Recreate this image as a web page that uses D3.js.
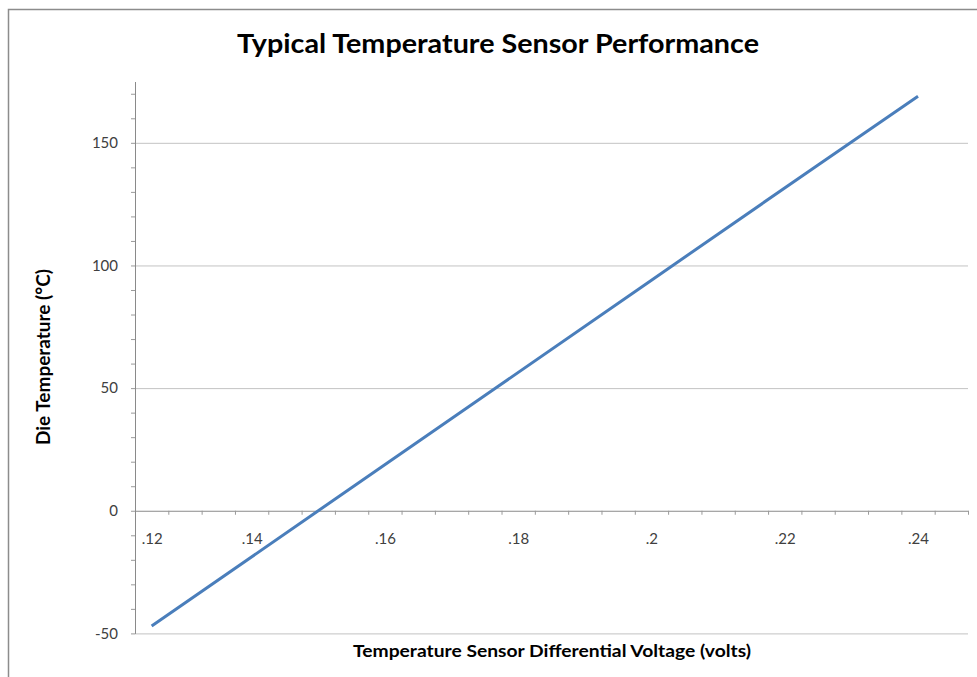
<!DOCTYPE html>
<html>
<head>
<meta charset="utf-8">
<script src="https://cdn.jsdelivr.net/npm/d3@7"></script>
<style>
  body { margin: 0; background: #fff; }
  text { font-family: Lato, "Open Sans", sans-serif; }
</style>
</head>
<body>
<svg></svg>
<script>
var width = 977
var height = 677

// values
var voltage = [0.125, 0.15, 0.175, 0.2, 0.225, 0.24]
var temperature = [-47, 0, 47, 94, 141, 169]

var xTickValues = [0.125, 0.14, 0.16, 0.18, 0.2, 0.22, 0.24]
var xTickLabels = [".12", ".14", ".16", ".18", ".2", ".22", ".24"]
var yTickValues = [-50, 0, 50, 100, 150]
var yTickLabels = ["-50", "0", "50", "100", "150"]

var points = voltage.map((v, i) => ({v: v, t: temperature[i]}))

// plot area (window.top is reserved, so no "top")
var plotLeft = 135, plotRight = 968, plotTop = 81.5, plotBottom = 633.4

var xScale = d3.scaleLinear()
                .domain([0.1225, 0.2475])
                .range([plotLeft, plotRight])

var yScale = d3.scaleLinear()
                .domain([-50, 175])
                .range([plotBottom, plotTop])

var svg = d3.select("svg")
  .attr("width", width)
  .attr("height", height)

// chart area border
svg.append("path")
   .attr("d", "M8.5,677 V9.5 H977")
   .attr("fill", "none")
   .attr("stroke", "#8c8c8c")
   .attr("stroke-width", 1.5)

// gridlines
svg.append("g")
   .attr("transform", `translate(${plotLeft},0)`)
   .call(d3.axisLeft(yScale).tickValues([-50, 50, 100, 150]).tickSize(-(plotRight - plotLeft)).tickFormat(""))
   .call(g => g.select(".domain").remove())
   .call(g => g.selectAll("line").attr("stroke", "#c3c3c3"))

// y minor ticks
var yMinor = d3.range(-40, 175, 10).filter(d => d % 50 != 0)
svg.append("g")
   .attr("transform", `translate(${plotLeft},0)`)
   .call(d3.axisLeft(yScale).tickValues(yMinor).tickSize(4).tickFormat(""))
   .call(g => g.select(".domain").remove())
   .call(g => g.selectAll("line").attr("stroke", "#9a9a9a"))

// y axis with labels
svg.append("g")
   .attr("transform", `translate(${plotLeft},0)`)
   .call(d3.axisLeft(yScale).tickValues(yTickValues).tickSize(4).tickPadding(13)
           .tickFormat((d, i) => yTickLabels[i]).tickSizeOuter(0))
   .call(g => g.select(".domain").attr("stroke", "#8a8a8a"))
   .call(g => g.selectAll("line").attr("stroke", "#9a9a9a"))
   .call(g => g.selectAll("text").attr("font-size", 15).attr("fill", "#404040")
                .attr("font-family", "Lato, sans-serif"))

// x axis at zero
var xMinor = d3.range(0, 25).map(k => 0.1275 + k * 0.005)
svg.append("g")
   .attr("transform", `translate(0,${yScale(0)})`)
   .call(d3.axisBottom(xScale).tickValues(xMinor).tickSize(4).tickFormat("").tickSizeOuter(0))
   .call(g => g.select(".domain").attr("stroke", "#8a8a8a"))
   .call(g => g.selectAll("line").attr("stroke", "#9a9a9a"))

svg.append("g")
   .attr("transform", `translate(0,${yScale(0)})`)
   .call(d3.axisBottom(xScale).tickValues(xTickValues).tickSize(0).tickPadding(23)
           .tickFormat((d, i) => xTickLabels[i]))
   .call(g => g.select(".domain").remove())
   .call(g => g.selectAll("text").attr("font-size", 15).attr("fill", "#404040")
                .attr("font-family", "Lato, sans-serif"))

// series
var line = d3.line()
             .x(d => xScale(d.v))
             .y(d => yScale(d.t))

svg.append("path")
   .datum(points)
   .attr("d", line)
   .attr("fill", "none")
   .attr("stroke", "#4a7ebb")
   .attr("stroke-width", 3)

// titles
svg.append("text")
   .attr("x", 498).attr("y", 53)
   .attr("text-anchor", "middle")
   .attr("font-size", 27).attr("font-weight", "bold").attr("fill", "#000")
   .attr("textLength", 522).attr("lengthAdjust", "spacingAndGlyphs")
   .text("Typical Temperature Sensor Performance")

svg.append("text")
   .attr("x", 552).attr("y", 657)
   .attr("text-anchor", "middle")
   .attr("font-size", 17).attr("font-weight", "bold").attr("fill", "#000")
   .attr("textLength", 398).attr("lengthAdjust", "spacingAndGlyphs")
   .text("Temperature Sensor Differential Voltage (volts)")

svg.append("text")
   .attr("transform", "translate(50,357) rotate(-90)")
   .attr("text-anchor", "middle")
   .attr("font-size", 18).attr("font-weight", "bold").attr("fill", "#000")
   .attr("textLength", 176).attr("lengthAdjust", "spacingAndGlyphs")
   .text("Die Temperature (°C)")
</script>
</body>
</html>
